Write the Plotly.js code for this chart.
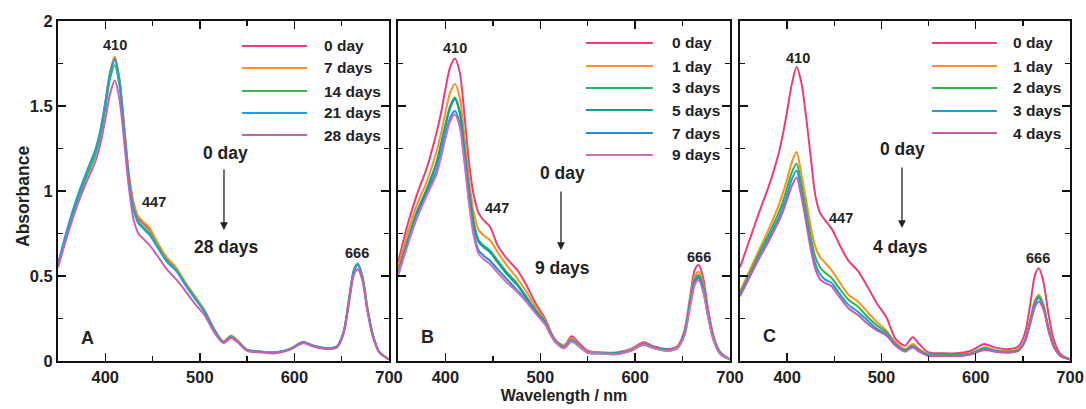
<!DOCTYPE html>
<html>
<head>
<meta charset="utf-8">
<script src="https://cdn.plot.ly/plotly-3.0.1.min.js"></script>
<style>html,body{margin:0;padding:0;background:#fff;}#chart{width:1086px;height:409px;}</style>
</head>
<body>
<div id="chart"></div>
<script>
// Wavelength grid (nm)
const wl = [350,360,370,380,390,395,400,405,410,415,420,425,430,435,440,447,455,465,475,485,495,505,515,525,533,540,550,565,580,595,609,620,635,645,652,658,663,667,672,677,683,690,700];

// Panel A
const namesA = ['0 day','7 days','14 days','21 days','28 days'];
const A_0  = [0.56,0.76,0.94,1.09,1.24,1.35,1.51,1.68,1.77,1.65,1.37,1.09,0.92,0.84,0.81,0.77,0.69,0.60,0.545,0.455,0.375,0.295,0.185,0.115,0.145,0.115,0.065,0.055,0.05,0.07,0.11,0.09,0.075,0.085,0.17,0.37,0.53,0.565,0.49,0.31,0.15,0.05,0.01];
const A_7  = [0.57,0.77,0.95,1.10,1.25,1.36,1.52,1.70,1.79,1.66,1.38,1.10,0.93,0.85,0.82,0.78,0.70,0.61,0.55,0.46,0.38,0.30,0.19,0.115,0.15,0.12,0.065,0.055,0.05,0.07,0.11,0.09,0.075,0.085,0.17,0.38,0.54,0.575,0.50,0.32,0.15,0.05,0.01];
const A_14 = [0.56,0.76,0.94,1.08,1.22,1.33,1.48,1.66,1.74,1.62,1.35,1.07,0.90,0.82,0.79,0.75,0.68,0.59,0.535,0.45,0.37,0.29,0.185,0.11,0.145,0.115,0.065,0.055,0.05,0.07,0.11,0.09,0.075,0.085,0.17,0.37,0.53,0.565,0.49,0.31,0.15,0.05,0.01];
const A_21 = [0.57,0.78,0.96,1.11,1.25,1.36,1.52,1.69,1.78,1.65,1.36,1.07,0.89,0.81,0.78,0.74,0.67,0.585,0.53,0.445,0.365,0.29,0.185,0.11,0.14,0.115,0.065,0.055,0.05,0.07,0.11,0.09,0.075,0.085,0.17,0.37,0.535,0.57,0.49,0.31,0.15,0.05,0.01];
const A_28 = [0.55,0.74,0.91,1.05,1.18,1.28,1.42,1.57,1.65,1.54,1.29,1.02,0.83,0.75,0.72,0.68,0.62,0.54,0.48,0.41,0.335,0.27,0.17,0.105,0.135,0.11,0.06,0.05,0.045,0.065,0.105,0.085,0.07,0.08,0.16,0.35,0.51,0.54,0.47,0.30,0.14,0.05,0.01];

// Panel B
const namesB = ['0 day','1 day','3 days','5 days','7 days','9 days'];
const B_0 = [0.58,0.80,0.98,1.13,1.33,1.45,1.60,1.73,1.78,1.70,1.45,1.16,0.97,0.87,0.83,0.79,0.68,0.60,0.54,0.45,0.34,0.25,0.13,0.09,0.145,0.11,0.06,0.05,0.05,0.07,0.11,0.085,0.07,0.09,0.18,0.38,0.54,0.565,0.48,0.30,0.14,0.05,0.01];
const B_1 = [0.55,0.75,0.92,1.05,1.22,1.33,1.46,1.58,1.63,1.55,1.32,1.06,0.87,0.77,0.74,0.71,0.64,0.56,0.49,0.41,0.32,0.24,0.13,0.085,0.135,0.10,0.055,0.05,0.045,0.065,0.105,0.08,0.065,0.085,0.17,0.36,0.50,0.525,0.45,0.28,0.13,0.045,0.01];
const B_3 = [0.52,0.71,0.88,1.01,1.16,1.27,1.39,1.50,1.55,1.47,1.25,1.00,0.81,0.71,0.68,0.65,0.59,0.52,0.46,0.38,0.30,0.23,0.125,0.08,0.125,0.095,0.05,0.045,0.045,0.06,0.10,0.08,0.065,0.08,0.16,0.35,0.48,0.505,0.43,0.27,0.125,0.045,0.01];
const B_5 = [0.515,0.70,0.87,1.00,1.15,1.26,1.38,1.49,1.54,1.46,1.24,0.99,0.80,0.70,0.67,0.64,0.58,0.51,0.45,0.375,0.295,0.225,0.12,0.08,0.12,0.095,0.05,0.045,0.045,0.06,0.10,0.08,0.065,0.08,0.16,0.34,0.47,0.495,0.42,0.265,0.12,0.045,0.01];
const B_7 = [0.51,0.69,0.85,0.98,1.11,1.21,1.33,1.43,1.47,1.40,1.19,0.94,0.75,0.65,0.62,0.59,0.54,0.48,0.42,0.36,0.285,0.22,0.12,0.075,0.12,0.09,0.05,0.045,0.04,0.06,0.095,0.075,0.06,0.08,0.155,0.33,0.46,0.485,0.41,0.26,0.12,0.04,0.01];
const B_9 = [0.50,0.68,0.84,0.97,1.09,1.19,1.31,1.41,1.45,1.38,1.17,0.92,0.73,0.63,0.60,0.57,0.52,0.46,0.41,0.35,0.28,0.215,0.115,0.075,0.115,0.09,0.05,0.045,0.04,0.06,0.095,0.075,0.06,0.08,0.15,0.32,0.45,0.475,0.40,0.255,0.115,0.04,0.01];

// Panel C
const namesC = ['0 day','1 day','2 days','3 days','4 days'];
const C_0 = [0.55,0.71,0.87,1.02,1.20,1.32,1.47,1.63,1.73,1.64,1.44,1.20,0.97,0.87,0.83,0.78,0.69,0.59,0.53,0.44,0.34,0.26,0.13,0.09,0.14,0.10,0.05,0.045,0.045,0.06,0.10,0.08,0.07,0.085,0.16,0.34,0.51,0.545,0.46,0.28,0.12,0.04,0.01];
const C_1 = [0.41,0.53,0.65,0.77,0.90,0.98,1.07,1.17,1.23,1.10,0.95,0.79,0.67,0.61,0.58,0.535,0.47,0.39,0.35,0.29,0.23,0.18,0.11,0.07,0.10,0.07,0.04,0.035,0.035,0.045,0.08,0.065,0.06,0.07,0.12,0.25,0.36,0.39,0.33,0.20,0.09,0.03,0.01];
const C_2 = [0.40,0.51,0.63,0.74,0.86,0.93,1.02,1.11,1.16,1.04,0.89,0.73,0.61,0.55,0.52,0.49,0.43,0.36,0.32,0.26,0.21,0.17,0.10,0.065,0.09,0.065,0.035,0.035,0.035,0.045,0.075,0.06,0.055,0.065,0.12,0.24,0.35,0.38,0.32,0.195,0.085,0.03,0.01];
const C_3 = [0.39,0.50,0.61,0.72,0.83,0.90,0.98,1.07,1.12,1.00,0.85,0.69,0.57,0.51,0.48,0.46,0.40,0.33,0.29,0.24,0.19,0.16,0.095,0.06,0.085,0.06,0.035,0.03,0.03,0.04,0.07,0.06,0.05,0.06,0.115,0.235,0.34,0.37,0.31,0.19,0.08,0.03,0.01];
const C_4 = [0.38,0.49,0.60,0.70,0.81,0.87,0.95,1.03,1.08,0.97,0.82,0.66,0.54,0.48,0.46,0.44,0.38,0.31,0.27,0.22,0.18,0.15,0.09,0.055,0.08,0.055,0.03,0.03,0.03,0.04,0.065,0.055,0.05,0.06,0.11,0.22,0.32,0.35,0.30,0.18,0.08,0.03,0.01];

const colorsA = ['#ef3b7c','#f7941d','#3cb84a','#1c9fe2','#cc5eae'];
const colorsB = ['#ef3b7c','#f7941d','#27b46a','#179c98','#1f8fe6','#d26db8'];
const colorsC = ['#ef3b7c','#f7941d','#33b44a','#1c9fe2','#c95aa8'];

const SANS = '"Liberation Sans", Arial, sans-serif';

const panels = [
  {series:[A_0,A_7,A_14,A_21,A_28], names:namesA, colors:colorsA, x:'x', y:'y'},
  {series:[B_0,B_1,B_3,B_5,B_7,B_9], names:namesB, colors:colorsB, x:'x2', y:'y2'},
  {series:[C_0,C_1,C_2,C_3,C_4], names:namesC, colors:colorsC, x:'x3', y:'y3'}
];

const traces = [];
panels.forEach(p => {
  p.series.forEach((s, i) => {
    traces.push({x: wl, y: s, type:'scatter', mode:'lines', name:p.names[i], xaxis:p.x, yaxis:p.y,
      line:{color:p.colors[i], width:2, shape:'spline', smoothing:0.8}, showlegend:false, hoverinfo:'skip'});
  });
});

const tickFont = {family:SANS, size:16.5, color:'#222', weight:'bold'};
function xax(domain, anchor){
  return {domain:domain, anchor:anchor, range:[350,700], showline:true, linewidth:2, linecolor:'#111', mirror:'ticks',
    ticks:'inside', ticklen:8, tickwidth:1.5, tickcolor:'#111', tick0:400, dtick:100,
    minor:{dtick:50, ticks:'inside', ticklen:5, tickwidth:1.5, tickcolor:'#111'},
    showgrid:false, zeroline:false, tickfont:tickFont, fixedrange:true};
}
function yax(anchor, labels){
  return {domain:[0.1174,0.9487], anchor:anchor, range:[0,2], showline:true, linewidth:2, linecolor:'#111', mirror:'ticks',
    ticks:'inside', ticklen:8, tickwidth:1.5, tickcolor:'#111', tick0:0, dtick:0.5,
    minor:{dtick:0.25, ticks:'inside', ticklen:5, tickwidth:1.5, tickcolor:'#111'},
    showgrid:false, zeroline:false, showticklabels:labels, tickfont:tickFont, fixedrange:true};
}

const layout = {
  width:1086, height:409, margin:{l:0,r:0,t:0,b:0}, paper_bgcolor:'#fff', plot_bgcolor:'#fff',
  showlegend:false,
  xaxis: xax([0.0534,0.3582],'y'),
  xaxis2: Object.assign(xax([0.3665,0.6722],'y2'), {title:{text:'Wavelength / nm', standoff:5, font:{family:SANS, size:16, color:'#222', weight:'bold'}}}),
  xaxis3: xax([0.6814,0.9853],'y3'),
  yaxis: yax('x', true),
  yaxis2: yax('x2', false),
  yaxis3: yax('x3', false),
  shapes:[], annotations:[]
};

// y-axis title
layout.annotations.push({xref:'paper', yref:'paper', x:23/1086, y:1-197/409, text:'Absorbance', textangle:-90, showarrow:false,
  xanchor:'center', yanchor:'middle', font:{family:SANS, size:17.5, color:'#222', weight:'bold'}});

// Legends (line samples + labels), per panel
const legendGeo = [
  {x0:544.6, x1:613.3, xt:629.2, rows:[1.853,1.724,1.588,1.459,1.329]},
  {x0:548.0, x1:618.6, xt:636.7, rows:[1.871,1.735,1.606,1.476,1.341,1.212]},
  {x0:553.6, x1:622.5, xt:637.4, rows:[1.871,1.735,1.606,1.471,1.341]}
];
panels.forEach((p, k) => {
  const g = legendGeo[k];
  p.names.forEach((n, i) => {
    layout.shapes.push({type:'line', xref:p.x, yref:p.y, x0:g.x0, x1:g.x1, y0:g.rows[i], y1:g.rows[i], line:{color:p.colors[i], width:2}});
    layout.annotations.push({xref:p.x, yref:p.y, x:g.xt, y:g.rows[i], text:n, showarrow:false, xanchor:'left', yanchor:'middle',
      font:{family:SANS, size:15.5, color:'#222', weight:'bold'}});
  });
});

// Peak labels, time arrows, panel letters
const peakFont = {family:SANS, size:14.5, color:'#222', weight:'bold'};
const bigFont = {family:SANS, size:17.5, color:'#222', weight:'bold'};
const letterFont = {family:SANS, size:18, color:'#222', weight:'bold'};
const marks = [
  {x:'x', y:'y', p410:[410.3,1.86], p447:[451.5,0.935], p666:[666.2,0.635], from:'0 day', to:'28 days', t1:[527.6,1.224], t2:[527.6,0.67], ar:[525.5,1.135,0.77], letter:'A', lp:[381.7,0.135]},
  {x:'x2', y:'y2', p410:[410.1,1.84], p447:[454.4,0.90], p666:[667.3,0.61], from:'0 day', to:'9 days', t1:[522.9,1.106], t2:[522.9,0.547], ar:[521.8,1.006,0.653], letter:'B', lp:[381.6,0.141]},
  {x:'x3', y:'y3', p410:[411.5,1.78], p447:[457.1,0.84], p666:[666.0,0.606], from:'0 day', to:'4 days', t1:[521.8,1.247], t2:[520.7,0.67], ar:[521.8,1.147,0.782], letter:'C', lp:[380.8,0.147]}
];
marks.forEach(m => {
  [['410',m.p410],['447',m.p447],['666',m.p666]].forEach(([t,pos]) => {
    layout.annotations.push({xref:m.x, yref:m.y, x:pos[0], y:pos[1], text:t, showarrow:false, font:peakFont});
  });
  layout.annotations.push({xref:m.x, yref:m.y, x:m.t1[0], y:m.t1[1], text:m.from, showarrow:false, font:bigFont});
  layout.annotations.push({xref:m.x, yref:m.y, x:m.t2[0], y:m.t2[1], text:m.to, showarrow:false, font:bigFont});
  layout.annotations.push({xref:m.x, yref:m.y, axref:m.x, ayref:m.y, x:m.ar[0], y:m.ar[2], ax:m.ar[0], ay:m.ar[1], text:'',
    showarrow:true, arrowhead:2, arrowsize:1.2, arrowwidth:1.3, arrowcolor:'#222'});
  layout.annotations.push({xref:m.x, yref:m.y, x:m.lp[0], y:m.lp[1], text:m.letter, showarrow:false, font:letterFont});
});

Plotly.newPlot('chart', traces, layout, {staticPlot:true, displayModeBar:false});
</script>
</body>
</html>
